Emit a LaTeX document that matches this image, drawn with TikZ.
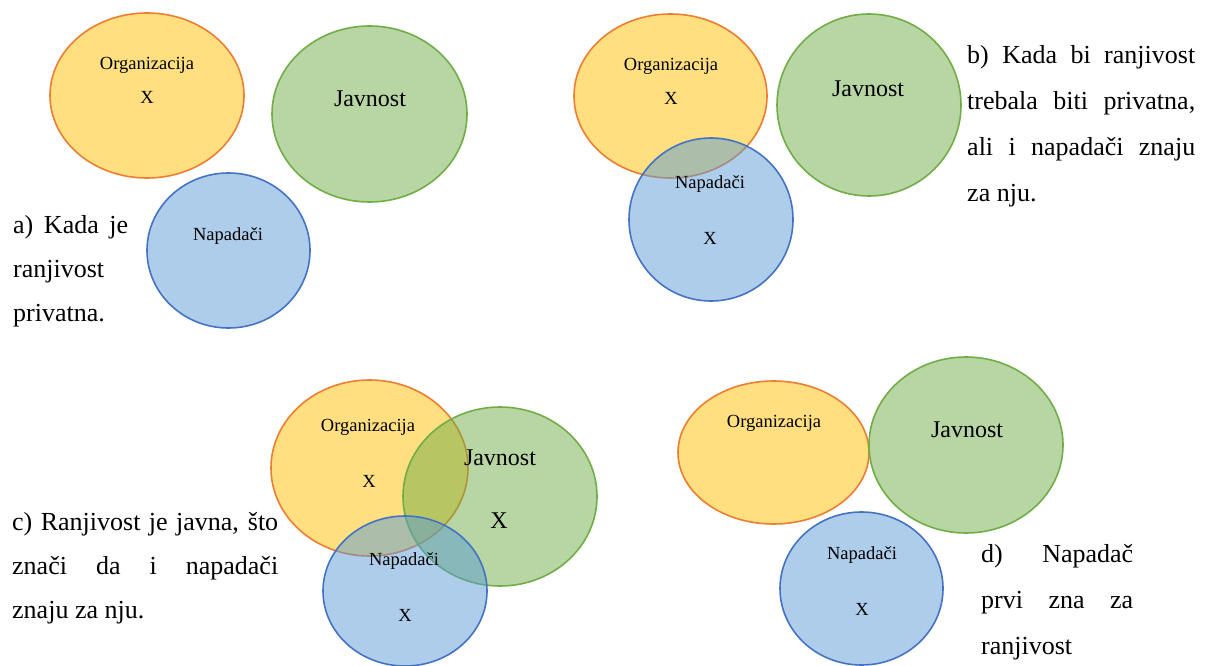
\documentclass[tikz,border=0pt]{standalone}
\usepackage{fontspec}
\setmainfont{Liberation Serif}
\usetikzlibrary{shapes.geometric}
\definecolor{orgfill}{HTML}{FFC000}
\definecolor{orgline}{HTML}{ED7D31}
\definecolor{javfill}{HTML}{70AD47}
\definecolor{javline}{HTML}{70AD47}
\definecolor{napfill}{HTML}{5B9BD5}
\definecolor{napline}{HTML}{4472C4}
\tolerance=10000
\hyphenpenalty=10000
\def\krug#1#2#3#4#5{\node[skup,#2,minimum width=#4,minimum height=#5] (#1) at #3 {};}

\begin{document}
\begin{tikzpicture}[x=1pt,y=-1pt,
  skup/.style={ellipse,inner sep=0pt,line width=1.6pt,fill opacity=0.5},
  org/.style={draw=orgline,fill=orgfill},
  jav/.style={draw=javline,fill=javfill},
  nap/.style={draw=napline,fill=napfill},
  mali/.style={font=\fontsize{18.5}{20}\selectfont,inner sep=0pt},
  veliki/.style={font=\fontsize{24}{26}\selectfont,inner sep=0pt},
  opis/.style={font=\fontsize{26}{46}\selectfont,
    align=justify,inner sep=0pt,anchor=base west},
  uze/.style={font=\fontsize{26}{44}\selectfont}]
\useasboundingbox (0,0) rectangle (1207,666);
% a)
\krug{Oa}{org}{(147,95.5)}{194}{165}
\krug{Ja}{jav}{(369.5,114)}{195}{176}
\krug{Na}{nap}{(228.5,250.5)}{163}{155}
\node[mali] (Oa1) at (147,65) {Organizacija};
\node[mali] (Oa2) at (147,97) {X};
\node[veliki] (Ja1) at (370,99) {Javnost};
\node[mali] (Na1) at (228,236) {Napadači};
\node[opis,uze,text width=115] (ta) at (13,233) {a) Kada je\linebreak ranjivost\linebreak privatna.};
% b)
\krug{Ob}{org}{(670.5,96)}{193}{164}
\krug{Jb}{jav}{(869,105)}{184}{182}
\krug{Nb}{nap}{(711,219.5)}{164}{163}
\node[mali] (Ob1) at (671,66) {Organizacija};
\node[mali] (Ob2) at (671,98) {X};
\node[veliki] (Jb1) at (868,89) {Javnost};
\node[mali] (Nb1) at (710,184) {Napadači};
\node[mali] (Nb2) at (710,238) {X};
\node[opis,text width=228] (tb) at (967,64) {b) Kada bi ranjivost\linebreak trebala biti privatna,\linebreak ali i napadači znaju\linebreak za nju.};
% c)
\krug{Oc}{org}{(369.5,468)}{197}{176}
\krug{Jc}{jav}{(500,496.5)}{194}{179}
\krug{Nc}{nap}{(405,591)}{164}{150}
\node[mali] (Oc1) at (368,427) {Organizacija};
\node[mali] (Oc2) at (369,481) {X};
\node[veliki] (Jc1) at (500,458) {Javnost};
\node[veliki] (Jc2) at (499,521) {X};
\node[mali] (Nc1) at (404,561) {Napadači};
\node[mali] (Nc2) at (405,615) {X};
\node[opis,uze,text width=266] (tc) at (12,530) {c) Ranjivost je javna, što\linebreak znači da i napadači\linebreak znaju za nju.};
% d)
\krug{Od}{org}{(773.5,452.5)}{191}{143}
\krug{Jd}{jav}{(966,445)}{194}{176}
\krug{Nd}{nap}{(861.5,588.5)}{163}{153}
\node[mali] (Od1) at (774,423) {Organizacija};
\node[veliki] (Jd1) at (967,430) {Javnost};
\node[mali] (Nd1) at (862,555) {Napadači};
\node[mali] (Nd2) at (862,609) {X};
\node[opis,text width=152] (td) at (981,562) {d) Napadač\linebreak prvi zna za\linebreak ranjivost};
\end{tikzpicture}
\end{document}
